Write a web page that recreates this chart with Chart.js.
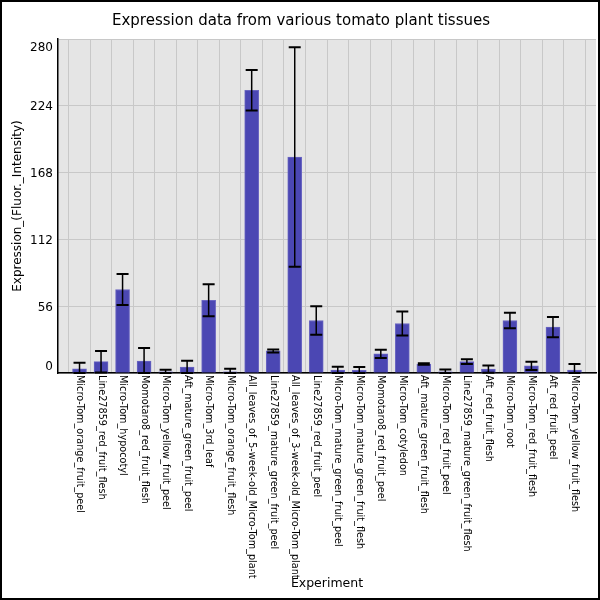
<!DOCTYPE html>
<html>
<head>
<meta charset="utf-8">
<script src="https://cdn.jsdelivr.net/npm/chart.js@4/dist/chart.umd.min.js"></script>
<style>
  body { margin: 0; background: #fff; }
  #wrap { width: 600px; height: 600px; }
</style>
</head>
<body>
<div id="wrap"><canvas id="expr-chart"></canvas></div>
<script>
// tissue names, in plotted order
const categories = [
    'Micro-Tom_orange_fruit_peel',
    'Line27859_red_fruit_flesh',
    'Micro-Tom_hypocotyl',
    'Momotaro8_red_fruit_flesh',
    'Micro-Tom_yellow_fruit_peel',
    'Aft_mature_green_fruit_peel',
    'Micro-Tom_3rd_leaf',
    'Micro-Tom_orange_fruit_flesh',
    'All_leaves_of_5-week-old_Micro-Tom_plant',
    'Line27859_mature_green_fruit_peel',
    'All_leaves_of_3-week-old_Micro-Tom_plant',
    'Line27859_red_fruit_peel',
    'Micro-Tom_mature_green_fruit_peel',
    'Micro-Tom_mature_green_fruit_flesh',
    'Momotaro8_red_fruit_peel',
    'Micro-Tom_cotyledon',
    'Aft_mature_green_fruit_flesh',
    'Micro-Tom_red_fruit_peel',
    'Line27859_mature_green_fruit_flesh',
    'Aft_red_fruit_flesh',
    'Micro-Tom_root',
    'Micro-Tom_red_fruit_flesh',
    'Aft_red_fruit_peel',
    'Micro-Tom_yellow_fruit_flesh'
];
const expression = [3.5, 9.5, 70, 10, 1, 5, 61, 1, 237, 18.5, 181, 44, 2.5, 2.3, 16, 41.5, 7.5, 1, 9.5, 3.3, 44, 6, 38.5, 2.5];
const errors = [5, 9, 13, 11, 1.8, 5.3, 13.5, 2.5, 17, 1.3, 92, 12, 2.8, 2.8, 3.5, 10, 0.6, 2, 2, 3, 6.5, 3.5, 8.5, 5];
const yTicks = [0, 56, 112, 168, 224, 280];

// one empty slot on each side of the categories
const paddedLabels = [''].concat(categories, ['']);
const paddedValues = [null].concat(expression, [null]);
const paddedErrors = [null].concat(errors, [null]);

const FONT = '"DejaVu Sans", sans-serif';

// grey plot background
const backdrop = {
    id: 'backdrop',
    beforeDraw(chart) {
        const { ctx, chartArea: a } = chart;
        ctx.save();
        ctx.fillStyle = '#E5E5E5';
        ctx.fillRect(a.left, a.top, a.right - a.left, a.bottom - a.top);
        ctx.restore();
    }
};

// error bars drawn from the dataset's bar positions
const errorBars = {
    id: 'errorBars',
    afterDatasetsDraw(chart) {
        const { ctx } = chart;
        const y = chart.scales.y;
        const meta = chart.getDatasetMeta(0);
        ctx.save();
        ctx.strokeStyle = '#000';
        meta.data.forEach((bar, i) => {
            const v = paddedValues[i];
            const e = paddedErrors[i];
            if (v === null) return;
            const top = y.getPixelForValue(v + e);
            const bot = y.getPixelForValue(Math.max(0, v - e));
            ctx.lineWidth = 1.5;
            ctx.beginPath();
            ctx.moveTo(bar.x, top);
            ctx.lineTo(bar.x, bot);
            ctx.stroke();
            ctx.lineWidth = 2;
            ctx.beginPath();
            ctx.moveTo(bar.x - 6, top);
            ctx.lineTo(bar.x + 6, top);
            ctx.moveTo(bar.x - 6, bot);
            ctx.lineTo(bar.x + 6, bot);
            ctx.stroke();
        });
        ctx.restore();
    }
};

// texts: title, tick labels (x labels read top to bottom), axis titles, frame
const texts = {
    id: 'texts',
    afterDraw(chart) {
        const { ctx, chartArea: a } = chart;
        const xs = chart.scales.x;
        const ys = chart.scales.y;
        ctx.save();
        ctx.fillStyle = '#000';

        ctx.font = '15px ' + FONT;
        ctx.textAlign = 'center';
        ctx.textBaseline = 'middle';
        ctx.fillText('Expression data from various tomato plant tissues', 301, 21);

        ctx.font = '12px ' + FONT;
        ctx.textAlign = 'right';
        yTicks.forEach(t => {
            let py = ys.getPixelForValue(t) + 1.5;
            py = Math.min(Math.max(py, a.top + 9), a.bottom - 6);
            ctx.fillText(String(t), 53, py);
        });

        ctx.font = '9.7px ' + FONT;
        ctx.textAlign = 'left';
        categories.forEach((c, i) => {
            const px = xs.getPixelForValue(i + 1);
            ctx.save();
            ctx.translate(px, a.bottom + 2);
            ctx.rotate(Math.PI / 2);
            ctx.fillText(c, 0, 0);
            ctx.restore();
        });

        ctx.font = '12.5px ' + FONT;
        ctx.textAlign = 'center';
        ctx.fillText('Experiment', (a.left + a.right) / 2, 584);
        ctx.font = '12px ' + FONT;
        ctx.save();
        ctx.translate(18, 206);
        ctx.rotate(-Math.PI / 2);
        ctx.fillText('Expression_(Fluor._Intensity)', 0, 0);
        ctx.restore();

        ctx.lineWidth = 2;
        ctx.strokeStyle = '#000';
        ctx.strokeRect(1, 1, 598, 598);
        ctx.restore();
    }
};

const exprContext = document.querySelector('#expr-chart').getContext('2d');

const exprChart = new Chart(exprContext, {
    type: 'bar',
    data: {
        labels: paddedLabels,
        datasets: [{
            data: paddedValues,
            backgroundColor: '#4B47B3',
            borderColor: '#6A66C2',
            borderWidth: 1,
            barThickness: 14
        }]
    },
    options: {
        responsive: true,
        maintainAspectRatio: false,
        animation: false,
        devicePixelRatio: 1,
        layout: { padding: { left: 58, right: 4, top: 39, bottom: 227 } },
        plugins: {
            legend: { display: false },
            tooltip: { enabled: false }
        },
        scales: {
            x: {
                offset: false,
                ticks: { display: false },
                grid: { color: '#C8C8C8', lineWidth: 1, drawTicks: false },
                border: { color: '#000', width: 1.5 },
                afterFit: s => { s.height = 0; }
            },
            y: {
                min: 0,
                max: 280,
                afterBuildTicks: s => { s.ticks = yTicks.map(v => ({ value: v })); },
                ticks: { display: false },
                grid: { color: '#C8C8C8', lineWidth: 1, drawTicks: false },
                border: { color: '#000', width: 1.5 },
                afterFit: s => { s.width = 0; }
            }
        }
    },
    plugins: [backdrop, errorBars, texts]
});
</script>
</body>
</html>
